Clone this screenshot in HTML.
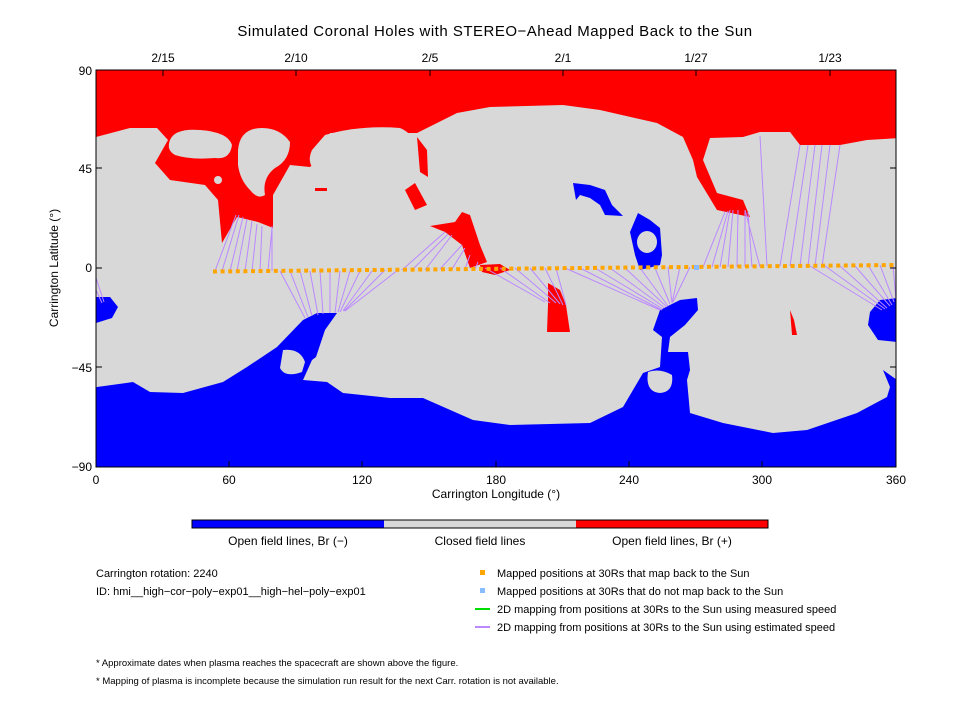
<!DOCTYPE html>
<html><head><style>
body{margin:0;background:#fff;}
svg text{font-family:"Liberation Sans",sans-serif;fill:#000;}
</style></head><body>
<svg width="960" height="720" viewBox="0 0 960 720" xmlns="http://www.w3.org/2000/svg">
<rect width="960" height="720" fill="#fff"/>
<defs><clipPath id="c"><rect x="96" y="70" width="800" height="397"/></clipPath></defs>
<g clip-path="url(#c)">
<rect x="96" y="70" width="800" height="397" fill="#d8d8d8"/>
<!-- red north -->
<path fill="#ff0000" d="M90,60 L900,60 L900,138 L867,140 L840,145 L800,145 L790,132 L760,132 L743,137 L710,138 L703,160 L717,193 L743,200 L750,217 L717,210 L697,177 L693,160 L683,137 L657,123 L600,110 L563,105 L490,107 L457,113 L417,133 L330,133 L330,150 L310,167 L290,165 L273,195 L273,228 L258,222 L237,217 L222,243 L218,200 L205,185 L170,180 L155,163 L168,140 L157,128 L130,128 L96,137 L90,137 Z"/>
<!-- gray blobs inside red -->
<path fill="#d8d8d8" d="M170,140 Q175,128 200,130 Q228,132 232,145 Q230,160 215,158 Q190,160 175,155 Q166,150 170,140 Z"/>
<path fill="#d8d8d8" d="M238,150 Q240,128 262,128 Q280,128 290,142 Q290,160 275,168 Q262,178 265,195 Q258,200 250,190 Q240,180 238,165 Z"/>
<path fill="#d8d8d8" d="M325,135 Q360,125 400,128 Q418,135 415,160 Q410,185 380,190 Q340,188 320,175 Q305,165 312,150 Z"/>
<circle cx="218" cy="180" r="4" fill="#d8d8d8"/>
<!-- red lower tongues -->
<path fill="#ff0000" d="M417,137 L427,150 L428,177 L420,172 Z"/>
<path fill="#ff0000" d="M405,190 L415,183 L427,205 L415,210 Z"/>
<path fill="#ff0000" d="M430,226 L455,222 L462,212 L470,215 L480,245 L487,262 L470,268 L462,245 L445,232 Z"/>
<path fill="#ff0000" d="M480,265 L500,264 L510,270 L495,275 L482,272 Z"/>
<path fill="#ff0000" d="M548,283 L560,290 L566,305 L570,332 L547,332 L548,305 Z"/>
<path fill="#ff0000" d="M790,310 L794,320 L797,335 L792,335 Z"/>
<rect x="315" y="188" width="12" height="3" fill="#ff0000"/>
<!-- blue south -->
<path fill="#0000ff" d="M90,387 L97,387 L133,382 L150,392 L183,393 L223,382 L247,367 L277,347 L303,320 L317,313 L337,313 L325,330 L316,357 L312,360 L303,380 L327,382 L343,393 L390,398 L423,398 L473,420 L510,425 L590,423 L623,407 L643,373 L660,367 L662,337 L653,330 L660,310 L680,300 L697,298 L698,310 L685,325 L670,337 L668,352 L688,352 L690,370 L687,380 L690,413 L723,423 L773,433 L807,430 L857,413 L887,397 L890,387 L883,370 L897,380 L900,380 L900,475 L90,475 Z"/>
<path fill="#d8d8d8" d="M283,350 Q300,348 305,362 L302,372 Q285,378 280,368 Z"/>
<path fill="#d8d8d8" d="M648,372 Q660,368 672,375 Q674,392 660,393 Q645,392 648,372 Z"/>
<path fill="#0000ff" d="M96,297 L110,297 L118,307 L112,318 L96,323 Z"/>
<path fill="#0000ff" d="M870,312 L880,300 L897,298 L897,342 L878,340 L868,325 Z"/>
<path fill="#0000ff" d="M573,183 L590,185 L605,190 L612,205 L623,216 L605,215 L600,205 L590,198 L580,195 L576,200 Z"/>
<path fill="#0000ff" d="M630,232 L638,213 L650,220 L660,228 L662,255 L660,265 L640,270 L635,255 Z"/>
<ellipse cx="647" cy="242" rx="10" ry="11" fill="#d8d8d8"/>
</g>
<!-- purple mapping lines -->
<g stroke="#bb88ff" stroke-width="1" fill="none">
<path d="M215,271 L236,215 M222,271 L239,215 M230,271 L243,217 M237,271 L247,219 M245,271 L252,221 M252,271 L257,224 M260,271 L262,226 M268,271 L272,228 M272,271 L272,226"/>
<path d="M280,271 L305,318 M290,271 L308,317 M300,271 L312,316 M310,271 L318,315 M320,271 L323,314 M330,271 L330,313 M340,271 L335,313 M350,271 L338,312 M360,271 L340,312 M372,271 L343,311 M385,270 L344,311 M398,270 L345,311"/>
<path d="M402,270 L445,232 M412,270 L448,234 M425,270 L452,235 M440,269 L462,245 M452,269 L465,248 M465,269 L470,255 M475,269 L478,262"/>
<path d="M485,268 L545,302 M500,268 L550,303 M515,268 L556,303 M530,268 L560,304 M545,268 L563,305 M556,268 L566,305"/>
<path d="M565,268 L660,310 M580,268 L662,310 M595,268 L663,309 M610,268 L665,308 M625,268 L667,307 M640,268 L668,306 M655,268 L670,304 M668,267 L672,303 M680,267 L672,303 M690,267 L673,302"/>
<path d="M703,267 L725,212 M712,267 L728,211 M720,267 L730,210 M728,267 L733,210 M737,267 L738,210 M745,267 L745,210 M752,267 L748,212 M760,267 L745,210"/>
<path d="M767,266 L760,136 M780,266 L800,145 M790,266 L808,145 M800,266 L815,145 M808,266 L822,145 M815,266 L830,145 M822,266 L840,145"/>
<path d="M810,266 L882,310 M825,266 L885,309 M840,266 L887,308 M855,266 L890,306 M868,265 L892,305 M880,265 L894,302 M893,265 L896,300"/>
<path d="M96,278 L104,302 M96,290 L102,303"/>
</g>
<!-- mapped positions -->
<line x1="213" y1="271.5" x2="896" y2="265" stroke="#ffa500" stroke-width="4" stroke-dasharray="4 3.6"/>
<rect x="694" y="265" width="5" height="5" fill="#88bbff"/>
<!-- frame -->
<rect x="96" y="70" width="800" height="397" fill="none" stroke="#000" stroke-width="1"/>
<g stroke="#000" stroke-width="1">
<path d="M96,168 h6 M96,268 h6 M96,367 h6 M896,168 h-6 M896,268 h-6 M896,367 h-6"/>
<path d="M229,467 v-6 M362,467 v-6 M496,467 v-6 M629,467 v-6 M762,467 v-6"/>
<path d="M163,70 v6 M296,70 v6 M430,70 v6 M563,70 v6 M696,70 v6 M830,70 v6"/>
</g>
<text x="495" y="36" font-size="15" text-anchor="middle" letter-spacing="0.5">Simulated Coronal Holes with STEREO−Ahead Mapped Back to the Sun</text>
<g font-size="12" text-anchor="middle">
<text x="163" y="62">2/15</text><text x="296" y="62">2/10</text><text x="430" y="62">2/5</text><text x="563" y="62">2/1</text><text x="696" y="62">1/27</text><text x="830" y="62">1/23</text>
<text x="96" y="484">0</text><text x="229" y="484">60</text><text x="362" y="484">120</text><text x="496" y="484">180</text><text x="629" y="484">240</text><text x="762" y="484">300</text><text x="896" y="484">360</text>
<text x="496" y="498">Carrington Longitude (°)</text>
</g>
<g font-size="12" text-anchor="end">
<text x="92" y="75">90</text><text x="92" y="173">45</text><text x="92" y="272">0</text><text x="92" y="372">−45</text><text x="92" y="471">−90</text>
</g>
<text transform="translate(58,268) rotate(-90)" font-size="12" text-anchor="middle">Carrington Latitude (°)</text>
<rect x="192" y="520" width="192" height="8" fill="#0000ff"/>
<rect x="384" y="520" width="192" height="8" fill="#d8d8d8"/>
<rect x="576" y="520" width="192" height="8" fill="#ff0000"/>
<rect x="192" y="520" width="576" height="8" fill="none" stroke="#000"/>
<g font-size="12" text-anchor="middle">
<text x="288" y="545">Open field lines, Br (−)</text>
<text x="480" y="545">Closed field lines</text>
<text x="672" y="545">Open field lines, Br (+)</text>
</g>
<g font-size="11">
<text x="96" y="577">Carrington rotation: 2240</text>
<text x="96" y="595">ID: hmi__high−cor−poly−exp01__high−hel−poly−exp01</text>
<text x="497" y="577">Mapped positions at 30Rs that map back to the Sun</text>
<text x="497" y="595">Mapped positions at 30Rs that do not map back to the Sun</text>
<text x="497" y="613">2D mapping from positions at 30Rs to the Sun using measured speed</text>
<text x="497" y="631">2D mapping from positions at 30Rs to the Sun using estimated speed</text>
</g>
<rect x="480" y="570" width="5" height="5" fill="#ffa500"/>
<rect x="480" y="588" width="5" height="5" fill="#88bbff"/>
<line x1="475" y1="609" x2="490" y2="609" stroke="#00dd00" stroke-width="2"/>
<line x1="475" y1="627" x2="490" y2="627" stroke="#bb88ff" stroke-width="2"/>
<g font-size="9.5">
<text x="96" y="666">* Approximate dates when plasma reaches the spacecraft are shown above the figure.</text>
<text x="96" y="684">* Mapping of plasma is incomplete because the simulation run result for the next Carr. rotation is not available.</text>
</g>
</svg>
</body></html>
